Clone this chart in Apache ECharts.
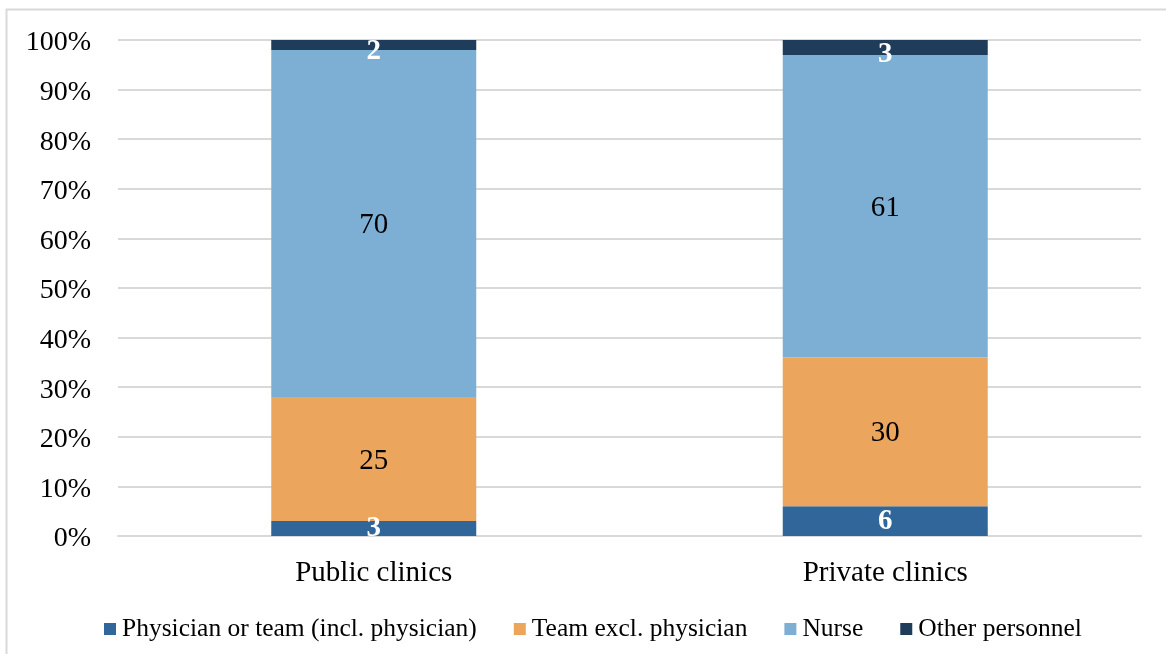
<!DOCTYPE html>
<html>
<head>
<meta charset="utf-8">
<script src="https://cdn.jsdelivr.net/npm/echarts@6/dist/echarts.min.js"></script>
<style>
  html, body { margin: 0; padding: 0; background: #ffffff; }
  #chart { width: 1166px; height: 654px; }
</style>
</head>
<body>
<div id="chart"></div>
<script>
// Who delivers the service, by clinic type (percent of responses)
const categories = ['Public clinics', 'Private clinics'];
const seriesNames = ['Physician or team (incl. physician)', 'Team excl. physician', 'Nurse', 'Other personnel'];
const physician = [3, 6];
const teamExcl = [25, 30];
const nurse = [70, 61];
const other = [2, 3];
const yTicks = [0, 10, 20, 30, 40, 50, 60, 70, 80, 90, 100];

const colors = ['#31669A', '#EBA55D', '#7DAFD5', '#1F3C5A'];
const labelColors = ['#ffffff', '#000000', '#000000', '#ffffff'];
const labelWeights = ['bold', 'normal', 'normal', 'bold'];
// the thin top segment keeps its label inside the plot area
const labelOffsets = [[0, 0], [0, 2], [0, 2], [0, 7]];
const values = [physician, teamExcl, nurse, other];

const serif = '"Liberation Serif", "Times New Roman", serif';

const chart = echarts.init(document.getElementById('chart'), null, { renderer: 'canvas' });

const series = seriesNames.map((name, i) => ({
  name: name,
  type: 'bar',
  stack: 'total',
  barWidth: 205,
  data: values[i],
  itemStyle: { color: colors[i] },
  label: {
    show: true,
    position: 'inside',
    offset: labelOffsets[i],
    fontFamily: serif,
    fontSize: 29,
    fontWeight: labelWeights[i],
    color: labelColors[i],
    formatter: p => String(p.value)
  },
  emphasis: { disabled: true }
}));

chart.setOption({
  animation: false,
  backgroundColor: '#ffffff',
  graphic: [{
    type: 'rect',
    shape: { x: 6.5, y: 9.5, width: 1180, height: 700 },
    style: { fill: 'none', stroke: '#D9D9D9', lineWidth: 2 },
    silent: true,
    z: -1
  }],
  grid: { left: 118, right: 25, top: 40, bottom: 118, containLabel: false },
  legend: {
    data: seriesNames,
    left: 104,
    top: 616,
    padding: 0,
    icon: 'rect',
    itemWidth: 12,
    itemHeight: 12,
    itemGap: 37,
    textStyle: { fontFamily: serif, fontSize: 25.5, color: '#000000', padding: [0, 0, 0, 1] }
  },
  xAxis: {
    type: 'category',
    data: categories,
    axisLine: { show: true, lineStyle: { color: '#D9D9D9', width: 2 } },
    axisTick: { show: false },
    axisLabel: { fontFamily: serif, fontSize: 29, color: '#000000', margin: 23 }
  },
  yAxis: {
    type: 'value',
    min: yTicks[0],
    max: yTicks[yTicks.length - 1],
    interval: 10,
    axisLine: { show: false },
    axisTick: { show: false },
    splitLine: { lineStyle: { color: '#D9D9D9', width: 2 } },
    axisLabel: {
      color: '#000000',
      margin: 27,
      formatter: v => '{p|' + v + '%}',
      rich: {
        p: { fontFamily: serif, fontSize: 28, color: '#000000', padding: [6, 0, 0, 0] }
      }
    }
  },
  series: series
});
</script>
</body>
</html>
